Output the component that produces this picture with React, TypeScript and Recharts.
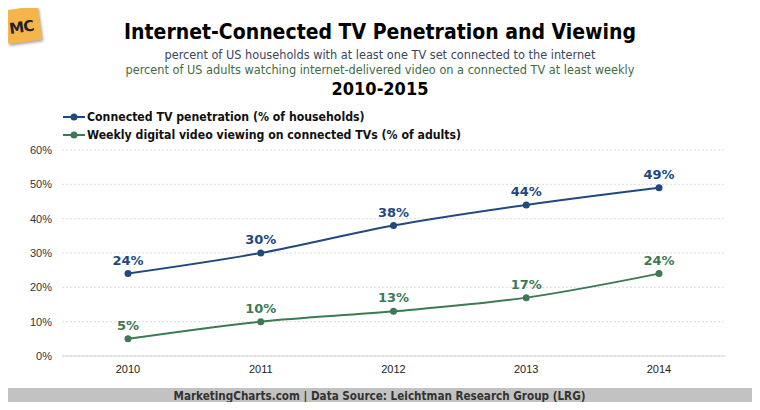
import React from 'react';
import { LineChart, Line, XAxis, YAxis, CartesianGrid, LabelList } from 'recharts';

// years shown on the x axis
const years = ['2010', '2011', '2012', '2013', '2014'];
// connected TV penetration, % of households
const penetration = [24, 30, 38, 44, 49];
// weekly digital video viewing on connected TVs, % of adults
const viewing = [5, 10, 13, 17, 24];
const yTicks = [0, 10, 20, 30, 40, 50, 60];

const BLUE = '#21497f';
const GREEN = '#3b7a55';

const data = years.map((year, i) => ({
  year,
  penetration: penetration[i],
  viewing: viewing[i],
}));

const legendItems = [
  { name: 'Connected TV penetration (% of households)', color: BLUE },
  { name: 'Weekly digital video viewing on connected TVs (% of adults)', color: GREEN },
];

const condensed = '"DejaVu Sans Condensed", "DejaVu Sans", sans-serif';

const App = () => {
  return (
    <div
      style={{
        position: 'relative',
        width: 760,
        height: 410,
        margin: -8,
        background: '#fff',
        overflow: 'hidden',
      }}
    >
      {/* outer frame */}
      <div
        style={{
          position: 'absolute',
          left: 3,
          top: 4,
          width: 753,
          height: 400,
          border: '1px solid #c8c8c8',
          boxSizing: 'border-box',
        }}
      />
      {/* MC logo */}
      <div
        style={{
          position: 'absolute',
          left: 6,
          top: 8,
          width: 34,
          height: 34,
          background: '#f6b54a',
          transform: 'rotate(-8deg)',
          boxShadow: '1px 2px 3px rgba(0,0,0,0.35)',
        }}
      >
        <div
          style={{
            position: 'absolute',
            left: 3,
            top: 10,
            fontFamily: '"DejaVu Sans", sans-serif',
            fontWeight: 'bold',
            fontSize: 15,
            color: '#222',
            letterSpacing: -1,
          }}
        >
          MC
        </div>
      </div>

      <div
        style={{
          position: 'absolute',
          left: 0,
          width: 760,
          top: 20,
          textAlign: 'center',
          fontFamily: condensed,
          fontWeight: 'bold',
          fontSize: 21,
          color: '#000',
        }}
      >
        Internet-Connected TV Penetration and Viewing
      </div>
      <div
        style={{
          position: 'absolute',
          left: 0,
          width: 760,
          top: 47,
          textAlign: 'center',
          fontFamily: condensed,
          fontSize: 12.6,
          lineHeight: '15px',
        }}
      >
        <div style={{ color: '#3a4560' }}>
          percent of US households with at least one TV set connected to the internet
        </div>
        <div style={{ color: '#3f6b45' }}>
          percent of US adults watching internet-delivered video on a connected TV at least weekly
        </div>
      </div>
      <div
        style={{
          position: 'absolute',
          left: 0,
          width: 760,
          top: 78,
          textAlign: 'center',
          fontFamily: condensed,
          fontWeight: 'bold',
          fontSize: 18,
          color: '#000',
        }}
      >
        2010-2015
      </div>

      {/* legend */}
      <div style={{ position: 'absolute', left: 63, top: 108 }}>
        {legendItems.map((item, index) => (
          <div key={`legend-${index}`} style={{ display: 'flex', alignItems: 'center', height: 18 }}>
            <svg width={22} height={10} style={{ marginRight: 2 }}>
              <line x1={0} y1={5} x2={22} y2={5} stroke={item.color} strokeWidth={2} />
              <circle cx={11} cy={5} r={3.5} fill={item.color} />
            </svg>
            <span style={{ fontFamily: condensed, fontWeight: 'bold', fontSize: 12.2, color: '#111' }}>
              {item.name}
            </span>
          </div>
        ))}
      </div>

      <div style={{ position: 'absolute', left: 0, top: 0 }}>
        <LineChart width={760} height={410} data={data} margin={{ top: 150, right: 35, bottom: 0, left: 0 }}>
          <CartesianGrid vertical={false} stroke="#dcdcdc" strokeDasharray="2 2" />
          <XAxis
            dataKey="year"
            padding={{ left: 66, right: 66 }}
            height={54}
            tickLine={false}
            tickSize={0}
            tickMargin={9}
            axisLine={{ stroke: '#d8d8d8' }}
            tick={{ fill: '#222', fontSize: 11, fontFamily: '"Liberation Sans", sans-serif' }}
          />
          <YAxis
            width={62}
            domain={[0, 60]}
            ticks={yTicks}
            tickFormatter={(v: number) => `${v}%`}
            axisLine={false}
            tickLine={false}
            tickSize={0}
            tickMargin={10}
            tick={{ fill: '#333', fontSize: 11, fontFamily: '"Liberation Sans", sans-serif' }}
          />
          <Line
            type="monotone"
            dataKey="penetration"
            stroke={BLUE}
            strokeWidth={2}
            dot={{ r: 3.5, fill: BLUE, stroke: BLUE, strokeWidth: 0 }}
            activeDot={false}
            isAnimationActive={false}
          >
            <LabelList
              dataKey="penetration"
              position="top"
              offset={9}
              formatter={(v: any) => `${v}%`}
              style={{ fill: BLUE, fontSize: 13, fontWeight: 'bold', fontFamily: '"DejaVu Sans", sans-serif' }}
            />
          </Line>
          <Line
            type="monotone"
            dataKey="viewing"
            stroke={GREEN}
            strokeWidth={2}
            dot={{ r: 3.5, fill: GREEN, stroke: GREEN, strokeWidth: 0 }}
            activeDot={false}
            isAnimationActive={false}
          >
            <LabelList
              dataKey="viewing"
              position="top"
              offset={9}
              formatter={(v: any) => `${v}%`}
              style={{ fill: GREEN, fontSize: 13, fontWeight: 'bold', fontFamily: '"DejaVu Sans", sans-serif' }}
            />
          </Line>
        </LineChart>
      </div>

      {/* source footer */}
      <div
        style={{
          position: 'absolute',
          left: 3,
          top: 388,
          width: 753,
          height: 17,
          background: '#c2c2c2',
          textAlign: 'center',
          fontFamily: condensed,
          fontWeight: 'bold',
          fontSize: 11.6,
          lineHeight: '17px',
          color: '#333',
        }}
      >
        MarketingCharts.com | Data Source: Leichtman Research Group (LRG)
      </div>
    </div>
  );
};

export default App;
